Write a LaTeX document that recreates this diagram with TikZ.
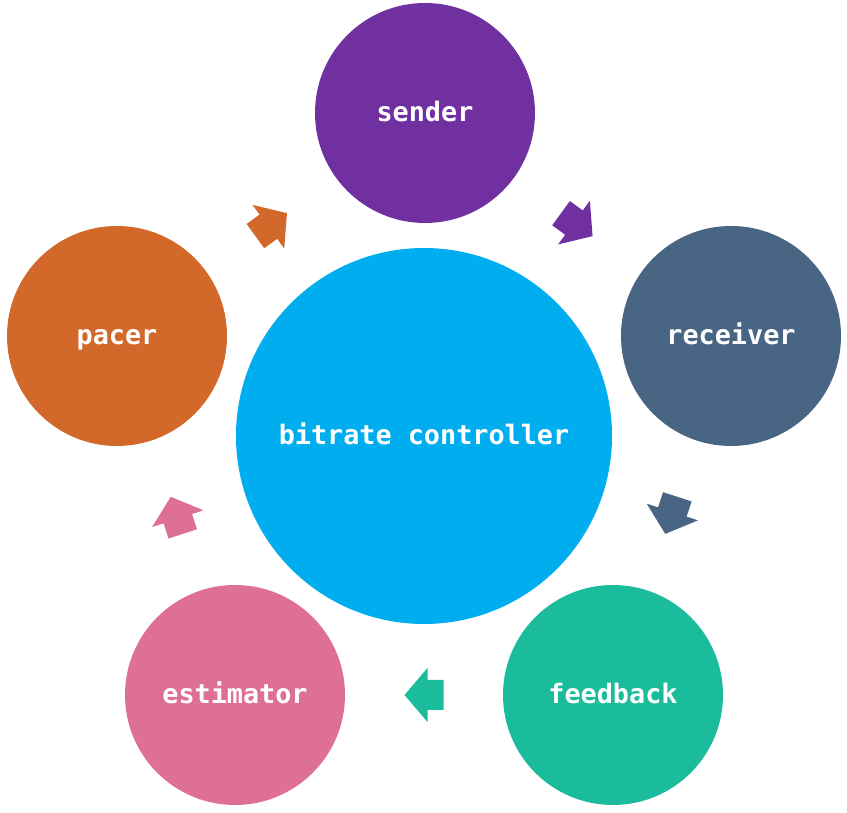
\documentclass[tikz,border=0pt]{standalone}
\usepackage{fontspec}
\setmonofont{DejaVu Sans Mono}
\definecolor{senderc}{HTML}{7030A0}
\definecolor{receiverc}{HTML}{486583}
\definecolor{feedbackc}{HTML}{1BBC9C}
\definecolor{estimatorc}{HTML}{DE6F96}
\definecolor{pacerc}{HTML}{D2692B}
\definecolor{centerc}{HTML}{00ADEE}
\begin{document}
\begin{tikzpicture}[x=1pt,y=1pt,
  ball/.style={circle, minimum size=#1, inner sep=0pt, text=white,
    text height=20pt, text depth=2pt,
    font=\ttfamily\bfseries\fontsize{26.8}{30}\selectfont}]
\useasboundingbox (0,0) rectangle (847,813);
\coordinate (hub) at (424,378);
\node[ball=376, fill=centerc] (ctrl) at (424,377) {bitrate controller};
\node[ball=220, fill=senderc] (sender) at (425,700) {sender};
\node[ball=220, fill=receiverc] (receiver) at (731,477) {receiver};
\node[ball=220, fill=feedbackc] (feedback) at (613,118) {feedback};
\node[ball=220, fill=estimatorc] (estimator) at (235,118) {estimator};
\node[ball=220, fill=pacerc] (pacer) at (117,477) {pacer};
\foreach \a/\c in {54/senderc, -18/receiverc, -90/feedbackc, -162/estimatorc, 126/pacerc}{
  \fill[\c, shift={(hub)}, rotate=\a, shift={(260,0)}, rotate=-90]
    (19.5,0) -- (-3.5,27) -- (-3.5,15) -- (-19.5,15) -- (-19.5,-15)
    -- (-3.5,-15) -- (-3.5,-27) -- cycle;
}
\end{tikzpicture}
\end{document}
